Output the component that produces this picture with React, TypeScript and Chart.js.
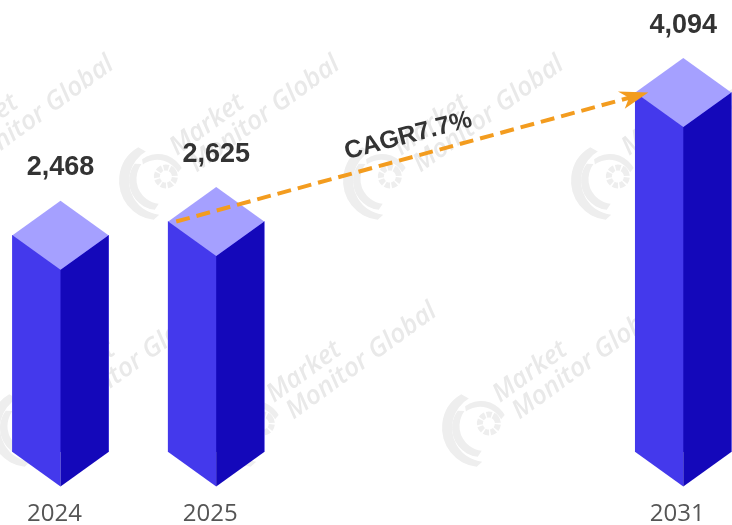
import React, { useEffect, useRef } from "react";
import { Chart, registerables } from "chart.js";

Chart.register(...registerables);

const categories = ["2024", "2025", "2031"];
const categorySlots = [0, 1, 4];
const marketValues = [2468, 2625, 4094];
const axisStart = -0.3886;
const axisEnd = 4.3128;
const cagrLabel = "CAGR7.7%";
const watermarkLines = ["Market", "Monitor Global"];
const watermarkAnchors = [
  [-68, 181], [158, 181], [382, 181], [610, 181],
  [29, 428], [255, 428], [481, 428],
];

const LEFT = "#4439EC";
const RIGHT = "#1408BA";
const TOP = "#A5A0FF";
const ORANGE = "#F39C1F";
const DEPTH = 34.5;

function drawLogo(ctx: CanvasRenderingContext2D) {
  ctx.fillStyle = "#eeeeee";
  ctx.strokeStyle = "#eeeeee";
  const crescent = (r1: number, r2: number, a0: number, a1: number, off: number) => {
    ctx.beginPath();
    ctx.arc(0, 0, r1, a0, a1);
    ctx.arc(off, 0, r2, a1, a0, true);
    ctx.closePath();
    ctx.fill();
  };
  ctx.save();
  ctx.rotate(0.61);
  crescent(39, 34, 1.7, 4.2, 5);
  ctx.rotate(-0.5);
  crescent(29, 25, 2.2, 4.3, 4);
  ctx.rotate(2.4);
  crescent(27, 24, 2.2, 3.9, 3);
  ctx.restore();
  ctx.beginPath();
  ctx.arc(9, 1, 9, 0, Math.PI * 2);
  ctx.lineWidth = 6;
  ctx.setLineDash([5, 1.5]);
  ctx.stroke();
  ctx.setLineDash([]);
}

const watermarkPlugin = {
  id: "watermark",
  beforeDatasetsDraw(chart: any) {
    const ctx: CanvasRenderingContext2D = chart.ctx;
    ctx.save();
    for (const [x, y] of watermarkAnchors) {
      ctx.save();
      ctx.translate(x, y);
      ctx.rotate((-36 * Math.PI) / 180);
      drawLogo(ctx);
      ctx.fillStyle = "#e9e9e9";
      ctx.font = "italic 600 26px 'Open Sans'";
      ctx.textAlign = "left";
      ctx.textBaseline = "alphabetic";
      ctx.fillText(watermarkLines[0], 30, -9);
      ctx.fillText(watermarkLines[1], 36, 16);
      ctx.restore();
    }
    ctx.restore();
  },
};

const cuboidPlugin = {
  id: "cuboid",
  afterDatasetsDraw(chart: any) {
    const ctx: CanvasRenderingContext2D = chart.ctx;
    const meta = chart.getDatasetMeta(0);
    const base = chart.scales.y.getPixelForValue(0);
    const poly = (pts: number[][], color: string) => {
      ctx.beginPath();
      pts.forEach(([x, y], i) => (i ? ctx.lineTo(x, y) : ctx.moveTo(x, y)));
      ctx.closePath();
      ctx.fillStyle = color;
      ctx.fill();
    };
    ctx.save();
    meta.data.forEach((bar: any, i: number) => {
      const c = bar.x;
      const hw = bar.width / 2;
      const y = bar.y;
      poly([[c - hw, y], [c, y + DEPTH], [c, base + DEPTH], [c - hw, base]], LEFT);
      poly([[c + hw, y], [c, y + DEPTH], [c, base + DEPTH], [c + hw, base]], RIGHT);
      poly([[c, y - DEPTH], [c + hw, y], [c, y + DEPTH], [c - hw, y]], TOP);
      ctx.fillStyle = "#333333";
      ctx.font = "bold 27px 'Liberation Sans'";
      ctx.textAlign = "center";
      ctx.textBaseline = "alphabetic";
      ctx.fillText(marketValues[i].toLocaleString("en-US"), c, y - 60);
    });

    const a = meta.data[1];
    const b = meta.data[2];
    const sx = a.x - 40;
    const sy = a.y;
    const ex = b.x - 35;
    const ey = b.y;
    const ang = Math.atan2(ey - sy, ex - sx);
    ctx.strokeStyle = ORANGE;
    ctx.lineWidth = 4;
    ctx.setLineDash([14, 7]);
    ctx.beginPath();
    ctx.moveTo(sx, sy);
    ctx.lineTo(ex - 18 * Math.cos(ang), ey - 18 * Math.sin(ang));
    ctx.stroke();
    ctx.setLineDash([]);
    ctx.save();
    ctx.translate(ex, ey);
    ctx.rotate(ang);
    ctx.fillStyle = ORANGE;
    ctx.beginPath();
    ctx.moveTo(0, 0);
    ctx.lineTo(-29, -9);
    ctx.lineTo(-20, 0);
    ctx.lineTo(-27, 9.5);
    ctx.closePath();
    ctx.fill();
    ctx.restore();

    ctx.save();
    ctx.translate((sx + ex) / 2 - 4, (sy + ey) / 2 - 21);
    ctx.rotate(ang + 0.01);
    ctx.fillStyle = "#333333";
    ctx.font = "bold 25px 'Liberation Sans'";
    ctx.textAlign = "center";
    ctx.textBaseline = "middle";
    ctx.fillText(cagrLabel, 0, 0);
    ctx.restore();
    ctx.restore();
  },
};

export default function App() {
  const ref = useRef<HTMLCanvasElement>(null);
  useEffect(() => {
    if (!ref.current) return;
    const chart = new Chart(ref.current, {
      type: "bar",
      data: {
        datasets: [
          {
            data: marketValues.map((v, i) => ({ x: categorySlots[i], y: v })),
            backgroundColor: LEFT,
            borderWidth: 0,
            barThickness: 96,
          },
        ],
      },
      options: {
        animation: false,
        responsive: false,
        devicePixelRatio: 1,
        layout: { padding: 0 },
        plugins: { legend: { display: false }, tooltip: { enabled: false } },
        scales: {
          x: {
            type: "linear",
            min: axisStart,
            max: axisEnd,
            offset: false,
            grid: { display: false, drawTicks: false },
            border: { display: false },
            afterFit: (s: any) => {
              s.height = 73;
              s.paddingLeft = 0;
              s.paddingRight = 0;
            },
            afterBuildTicks: (s: any) => {
              s.ticks = categorySlots.map((value) => ({ value }));
            },
            ticks: {
              autoSkip: false,
              maxRotation: 0,
              padding: 48,
              labelOffset: -6,
              color: "#555555",
              font: { family: "'Open Sans'", size: 24 },
              callback: (value: number) => categories[categorySlots.indexOf(value)] ?? "",
            },
          },
          y: { display: false, min: 0, max: 5148 },
        },
      },
      plugins: [watermarkPlugin, cuboidPlugin],
    } as any);
    return () => chart.destroy();
  }, []);
  return (
    <canvas
      ref={ref}
      width={732}
      height={525}
      style={{ position: "absolute", left: 0, top: 0, width: 732, height: 525, display: "block", background: "#fff" }}
    />
  );
}
